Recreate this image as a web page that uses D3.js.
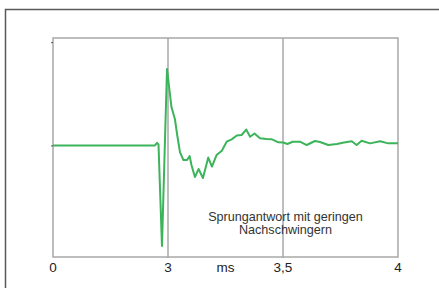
<!DOCTYPE html>
<html>
<head>
<meta charset="utf-8">
<script src="https://cdn.jsdelivr.net/npm/d3@7"></script>
<style>
  body { margin: 0; background: #fff; }
  svg text { font-family: "Liberation Sans", Arial, sans-serif; }
</style>
</head>
<body>
<div id="chart"></div>
<script>
// time in ms (broken axis: 0-3, 3-3.5, 3.5-4 get equal width)
var timeMs = [0, 2.661, 2.713, 2.752, 2.843, 2.974, 3.015, 3.030, 3.040, 3.052,
  3.067, 3.083, 3.094, 3.102, 3.117, 3.133, 3.152, 3.175, 3.191, 3.211,
  3.234, 3.255, 3.277, 3.299, 3.320, 3.340, 3.357, 3.376, 3.400, 3.429,
  3.452, 3.480, 3.501, 3.519, 3.542, 3.574, 3.603, 3.639, 3.661, 3.697,
  3.734, 3.765, 3.799, 3.820, 3.842, 3.878, 3.922, 3.958, 4.0];
var response = [0, 0, 0.025, 0.01, -0.974, 0.740, 0.372, 0.256, 0.101, -0.064,
  -0.141, -0.141, -0.103, -0.190, -0.306, -0.228, -0.316, -0.117, -0.204, -0.093,
  -0.051, 0.036, 0.059, 0.096, 0.101, 0.154, 0.084, 0.115, 0.069, 0.062,
  0.059, 0.030, 0.028, 0.014, 0.036, 0.036, 0.004, 0.043, 0.033, 0.004,
  0.014, 0.028, 0.040, 0.004, 0.045, 0.020, 0.040, 0.020, 0.020];

var xTicks = [0, 3, 3.5, 4];
var xTickLabels = ["0", "3", "3,5", "4"];
var gridLines = [3, 3.5];
var yTicks = [0, 1];
var unitLabel = "ms";
var noteLines = ["Sprungantwort mit geringen", "Nachschwingern"];

var svgWidth = 439;
var svgHeight = 288;

var svg = d3.select("#chart")
  .append("svg")
  .attr("width", svgWidth)
  .attr("height", svgHeight);

// outer frame (only top and left visible)
svg.append("path")
  .attr("d", "M5.5," + svgHeight + "V9.5H" + svgWidth)
  .attr("fill", "none")
  .attr("stroke", "#5a5a5a")
  .attr("stroke-width", 1.5);

// plot box
var plot = { left: 53, right: 398, top: 38, bottom: 257 };

// piecewise scale for the broken time axis
var x = d3.scaleLinear()
  .domain(xTicks)
  .range([plot.left, plot.left + 115, plot.left + 230, plot.right]);

var y = d3.scaleLinear()
  .domain([-1.08, 1.04])
  .range([plot.bottom, plot.top]);

var data = timeMs.map(function(t, i) { return { t: t, v: response[i] }; });

// plot frame
svg.append("rect")
  .attr("x", plot.left)
  .attr("y", plot.top)
  .attr("width", plot.right - plot.left)
  .attr("height", plot.bottom - plot.top)
  .attr("fill", "none")
  .attr("stroke", "#a8a8a8")
  .attr("stroke-width", 1.5);

// vertical grid lines
svg.selectAll(".grid")
  .data(gridLines)
  .enter()
  .append("line")
  .attr("class", "grid")
  .attr("x1", d => x(d))
  .attr("x2", d => x(d))
  .attr("y1", plot.top)
  .attr("y2", plot.bottom + 1)
  .attr("stroke", "#a8a8a8")
  .attr("stroke-width", 1.5);

// little y ticks, no labels
var yAxis = d3.axisLeft(y).tickValues(yTicks).tickSize(2).tickFormat("");
svg.append("g")
  .attr("transform", "translate(" + plot.left + ",0)")
  .call(yAxis)
  .call(g => g.select(".domain").remove())
  .call(g => g.selectAll("line").attr("stroke", "#555"));

// x labels
svg.selectAll(".xlab")
  .data(xTicks)
  .enter()
  .append("text")
  .attr("class", "xlab")
  .attr("x", d => x(d))
  .attr("y", 272)
  .attr("text-anchor", "middle")
  .attr("font-size", 13.5)
  .attr("fill", "#222")
  .text((d, i) => xTickLabels[i]);

svg.append("text")
  .attr("x", (x(3) + x(3.5)) / 2)
  .attr("y", 272)
  .attr("text-anchor", "middle")
  .attr("font-size", 13.5)
  .attr("fill", "#222")
  .text(unitLabel);

// the response curve
var line = d3.line()
  .x(d => x(d.t))
  .y(d => y(d.v));

svg.append("path")
  .datum(data)
  .attr("d", line)
  .attr("fill", "none")
  .attr("stroke", "#3cb45a")
  .attr("stroke-width", 2)
  .attr("stroke-linejoin", "round");

// annotation
svg.append("text")
  .attr("text-anchor", "middle")
  .attr("font-size", 12.6)
  .attr("fill", "#333")
  .selectAll("tspan")
  .data(noteLines)
  .enter()
  .append("tspan")
  .attr("x", 285.5)
  .attr("y", (d, i) => 221 + i * 13)
  .text(d => d);
</script>
</body>
</html>
